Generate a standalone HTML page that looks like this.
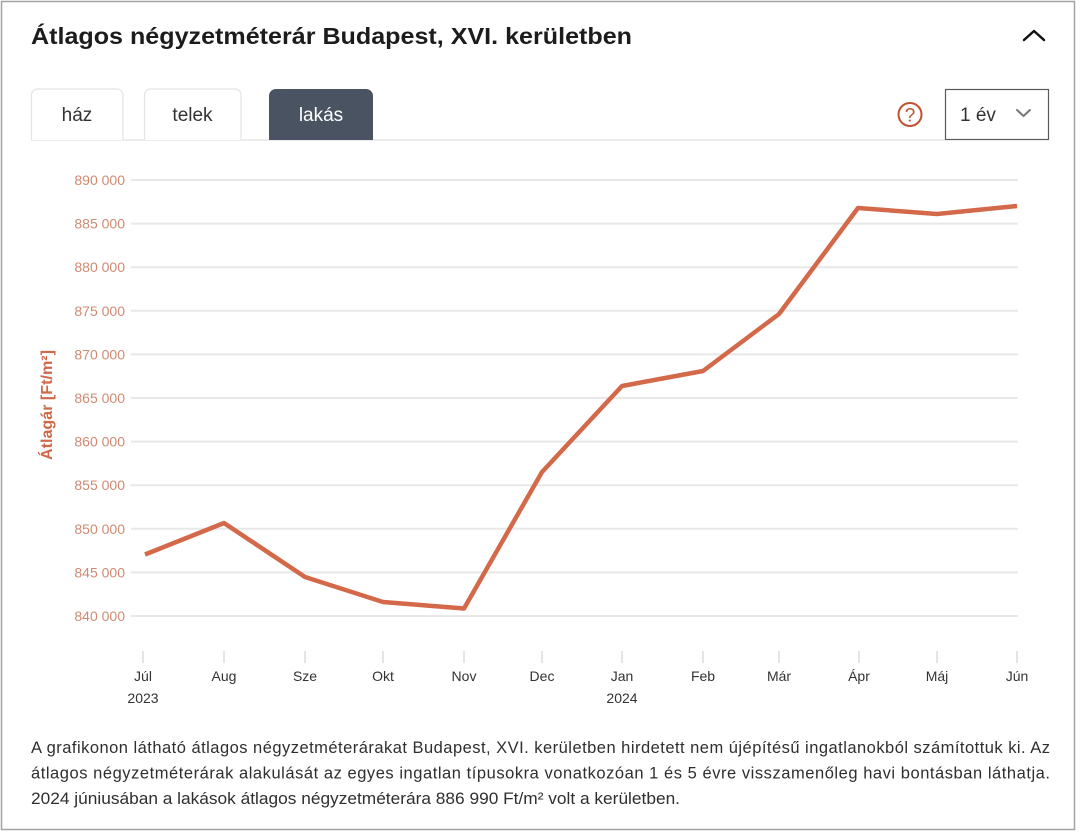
<!DOCTYPE html>
<html><head><meta charset="utf-8"><style>
html,body{margin:0;padding:0;background:#fff;}
svg{display:block;}
text{font-family:"Liberation Sans",sans-serif;}
</style></head><body>
<svg width="1084" height="832" viewBox="0 0 1084 832" xmlns="http://www.w3.org/2000/svg">
<rect x="0" y="0" width="1084" height="832" fill="#fff"/>
<rect x="1.5" y="1.5" width="1073" height="828" fill="#fff" stroke="#a3a3a3" stroke-width="1.5"/>
<text x="31" y="44" font-size="23" font-weight="bold" fill="#1c1c1c" textLength="601" lengthAdjust="spacingAndGlyphs">Átlagos négyzetméterár Budapest, XVI. kerületben</text>
<polyline points="1024,40 1034,31 1044,40" fill="none" stroke="#111" stroke-width="2.5" stroke-linecap="round" stroke-linejoin="round"/>
<line x1="31" y1="140" x2="945" y2="140" stroke="#e6e6e6" stroke-width="1.5"/>
<path d="M31.5,140 V95 a6,6 0 0 1 6,-6 H117 a6,6 0 0 1 6,6 V140" fill="#fff" stroke="#e3e3e3" stroke-width="1.2"/>
<path d="M144.5,140 V95 a6,6 0 0 1 6,-6 H235 a6,6 0 0 1 6,6 V140" fill="#fff" stroke="#e3e3e3" stroke-width="1.2"/>
<path d="M269,140 V96 a7,7 0 0 1 7,-7 H366 a7,7 0 0 1 7,7 V140 Z" fill="#4a5361"/>
<text x="77" y="121" font-size="19" fill="#333" text-anchor="middle">ház</text>
<text x="192.5" y="121" font-size="19" fill="#333" text-anchor="middle">telek</text>
<text x="321" y="121" font-size="19" fill="#fff" text-anchor="middle">lakás</text>
<circle cx="910" cy="114.5" r="11.5" fill="none" stroke="#c0532f" stroke-width="2"/>
<text x="910" y="121.5" font-size="19" fill="#c0532f" text-anchor="middle">?</text>
<rect x="945.5" y="89.5" width="103" height="50" fill="#fff" stroke="#5a5a5a" stroke-width="1.2"/>
<text x="960" y="121" font-size="19" fill="#333">1 év</text>
<polyline points="1017,110 1023.5,116 1030,110" fill="none" stroke="#777" stroke-width="2" stroke-linecap="round" stroke-linejoin="round"/>
<g stroke="#e8e8e8" stroke-width="2">
<line x1="131" y1="180" x2="1018" y2="180"/>
<line x1="131" y1="223.6" x2="1018" y2="223.6"/>
<line x1="131" y1="267.2" x2="1018" y2="267.2"/>
<line x1="131" y1="310.8" x2="1018" y2="310.8"/>
<line x1="131" y1="354.4" x2="1018" y2="354.4"/>
<line x1="131" y1="398" x2="1018" y2="398"/>
<line x1="131" y1="441.6" x2="1018" y2="441.6"/>
<line x1="131" y1="485.2" x2="1018" y2="485.2"/>
<line x1="131" y1="528.8" x2="1018" y2="528.8"/>
<line x1="131" y1="572.4" x2="1018" y2="572.4"/>
<line x1="131" y1="616" x2="1018" y2="616"/>
</g>
<g font-size="14" fill="#cf8b72" text-anchor="end">
<text x="125" y="185">890 000</text>
<text x="125" y="228.6">885 000</text>
<text x="125" y="272.2">880 000</text>
<text x="125" y="315.8">875 000</text>
<text x="125" y="359.4">870 000</text>
<text x="125" y="403">865 000</text>
<text x="125" y="446.6">860 000</text>
<text x="125" y="490.2">855 000</text>
<text x="125" y="533.8">850 000</text>
<text x="125" y="577.4">845 000</text>
<text x="125" y="621">840 000</text>
</g>
<text transform="translate(52,405) rotate(-90)" font-size="15.5" font-weight="bold" fill="#d0694a" text-anchor="middle" textLength="110" lengthAdjust="spacingAndGlyphs">Átlagár [Ft/m²]</text>
<g stroke="#dcdcdc" stroke-width="1.5">
<line x1="143" y1="651" x2="143" y2="663"/>
<line x1="224" y1="651" x2="224" y2="663"/>
<line x1="305" y1="651" x2="305" y2="663"/>
<line x1="383" y1="651" x2="383" y2="663"/>
<line x1="464" y1="651" x2="464" y2="663"/>
<line x1="542" y1="651" x2="542" y2="663"/>
<line x1="622" y1="651" x2="622" y2="663"/>
<line x1="703" y1="651" x2="703" y2="663"/>
<line x1="779" y1="651" x2="779" y2="663"/>
<line x1="859" y1="651" x2="859" y2="663"/>
<line x1="937" y1="651" x2="937" y2="663"/>
<line x1="1017" y1="651" x2="1017" y2="663"/>
</g>
<g font-size="14" fill="#333" text-anchor="middle">
<text x="143" y="681">Júl</text>
<text x="143" y="703">2023</text>
<text x="224" y="681">Aug</text>
<text x="305" y="681">Sze</text>
<text x="383" y="681">Okt</text>
<text x="464" y="681">Nov</text>
<text x="542" y="681">Dec</text>
<text x="622" y="681">Jan</text>
<text x="622" y="703">2024</text>
<text x="703" y="681">Feb</text>
<text x="779" y="681">Már</text>
<text x="859" y="681">Ápr</text>
<text x="937" y="681">Máj</text>
<text x="1017" y="681">Jún</text>
</g>
<polyline points="145,554.5 224,523 305,577 383,602 464,608.5 542,472 622,386 703,371 779,314 858,208 937,214 1017,206" fill="none" stroke="#d4694a" stroke-width="4.5" stroke-linejoin="round"/>
<g font-size="16.5" fill="#2f2f2f">
<text x="31" y="753" textLength="1019" lengthAdjust="spacing">A grafikonon látható átlagos négyzetméterárakat Budapest, XVI. kerületben hirdetett nem újépítésű ingatlanokból számítottuk ki. Az</text>
<text x="31" y="778.5" textLength="1019" lengthAdjust="spacing">átlagos négyzetméterárak alakulását az egyes ingatlan típusokra vonatkozóan 1 és 5 évre visszamenőleg havi bontásban láthatja.</text>
<text x="31" y="804" textLength="649" lengthAdjust="spacingAndGlyphs">2024 júniusában a lakások átlagos négyzetméterára 886 990 Ft/m² volt a kerületben.</text>
</g>
</svg>
</body></html>
